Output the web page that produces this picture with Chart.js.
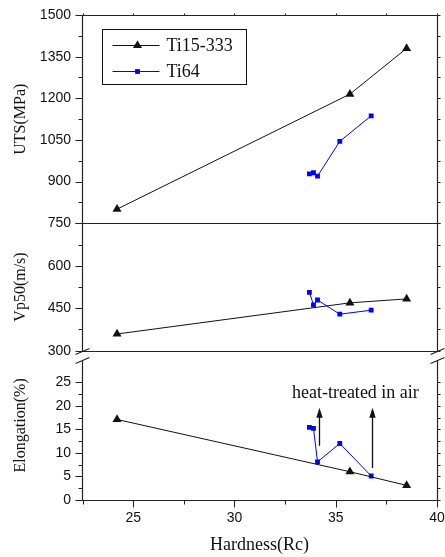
<!DOCTYPE html>
<html>
<head>
<meta charset="utf-8">
<script src="https://cdn.jsdelivr.net/npm/chart.js@4/dist/chart.umd.min.js"></script>
<style>
  html, body { margin: 0; padding: 0; background: #fff; }
</style>
</head>
<body>
<canvas id="myChart" width="445" height="557"></canvas>
<script>
//Data
const seriesNames = ['Ti15-333', 'Ti64']

const ti15Hardness = [24.2, 35.7, 38.5]
const ti15Uts = [801, 1215, 1380]
const ti15Vp50 = [359, 469, 483]
const ti15Elong = [17.1, 6.0, 3.1]

const ti64Hardness = [33.7, 33.9, 34.1, 35.2, 36.75]
const ti64Uts = [928, 932, 920, 1045, 1137]
const ti64Vp50 = [506, 462, 479, 429, 443]
const ti64Elong = [15.4, 15.2, 8.1, 12.0, 5.1]

const hardnessTicks = [25, 30, 35, 40]
const utsTicks = [900, 1050, 1200, 1350, 1500]
const vp50Ticks = [300, 450, 600, 750]
const elongTicks = [0, 5, 10, 15, 20, 25]

//Annotation (hardness, elongation from, elongation to)
const arrowX = [34.18, 36.77]
const arrowFrom = [11.5, 6.8]
const arrowTo = [19.6, 19.6]
const noteText = 'heat-treated in air'
const noteX = 35.97
const noteY = 22.7

const SERIF = '"Liberation Serif", "Times New Roman", serif'
const SANS = '"Liberation Sans", Arial, sans-serif'
const INK = '#111'
const BLUE = '#0000ff'

function pts(xs, ys){
  return xs.map((x, i) => ({x: x, y: ys[i]}))
}

function ti15(data, axis){
  return {
    label: seriesNames[0], data: data, yAxisID: axis,
    borderColor: INK, backgroundColor: INK, borderWidth: 1,
    pointStyle: 'triangle', pointRadius: 5.2, pointBorderWidth: 0,
    pointHoverRadius: 5.2
  }
}
function ti64(data, axis){
  return {
    label: seriesNames[1], data: data, yAxisID: axis,
    borderColor: BLUE, backgroundColor: BLUE, borderWidth: 1,
    pointStyle: 'rect', pointRadius: 3.4, pointBorderWidth: 0,
    pointHoverRadius: 3.4
  }
}

function fixedTicks(list){
  return s => { s.ticks = list.map(v => ({value: v})) }
}

function yScale(min, max, list, weight, title){
  return {
    type: 'linear', position: 'left', stack: 'panels', stackWeight: weight,
    min: min, max: max,
    afterBuildTicks: fixedTicks(list),
    afterFit: s => { s.width = 82; s.paddingTop = 0; s.paddingBottom = 0 },
    grid: {display: false, drawTicks: false},
    border: {display: false},
    ticks: {padding: 11, autoSkip: false, color: INK, font: {family: SANS, size: 14}, callback: v => String(v)},
    title: {display: true, text: title, color: INK, font: {family: SERIF, size: 16}, padding: {top: 11, bottom: 0}}
  }
}

//Frame, ticks, breaks
const frame = {
  id: 'frame',
  afterDatasetsDraw(chart){
    const ctx = chart.ctx
    const x = chart.scales.x, yU = chart.scales.yU, yV = chart.scales.yV, yE = chart.scales.yE
    const L = Math.round(x.left) + 0.5, R = Math.round(x.right) + 0.5
    const top = Math.round(yU.getPixelForValue(1500)) + 0.5
    const mid = Math.round(yU.getPixelForValue(750)) + 0.5
    const brk = Math.round(yV.getPixelForValue(300)) + 0.5
    const bTop = brk + 9
    const bot = Math.round(yE.getPixelForValue(0)) + 0.5

    ctx.save()
    ctx.strokeStyle = '#222'
    ctx.lineWidth = 1.2
    const line = (x1, y1, x2, y2) => { ctx.beginPath(); ctx.moveTo(x1, y1); ctx.lineTo(x2, y2); ctx.stroke() }

    //boxes
    line(L, top, R, top)
    line(L, mid, R, mid)
    line(L, brk, R, brk)
    line(L, bot, R, bot)
    line(L, top, L, brk)
    line(R, top, R, brk)
    line(L, bTop, L, bot)
    line(R, bTop, R, bot)

    //break marks
    ctx.lineWidth = 1.1
    ;[L, R].forEach(px => {
      line(px - 7, brk + 3, px + 7, brk - 3)
      line(px - 7, bTop + 3, px + 7, bTop - 3)
    })

    //y ticks
    ctx.lineWidth = 1
    const yTicks = (scale, major, lo, hi) => {
      const step = major[1] - major[0]
      for (let v = major[0] - step / 2; v <= major[major.length - 1] + 0.001; v += step / 2){
        if (v < lo - 0.001 || v > hi + 0.001) continue
        const py = Math.round(scale.getPixelForValue(v)) + 0.5
        const isMajor = major.some(m => Math.abs(m - v) < 0.001)
        line(L - (isMajor ? 7 : 4), py, L, py)
        line(R, py, R + 3, py)
      }
    }
    yTicks(yU, [750].concat(utsTicks), 750, 1500)
    yTicks(yV, vp50Ticks, 300, 750)
    yTicks(yE, elongTicks, 0, 28)

    //x ticks
    for (let v = 22.5; v <= 40.001; v += 2.5){
      const px = Math.round(x.getPixelForValue(v)) + 0.5
      const isMajor = hardnessTicks.some(m => Math.abs(m - v) < 0.001)
      line(px, bot, px, bot + (isMajor ? 7 : 4))
      line(px, top, px, top - 2)
    }
    ctx.restore()
  }
}

//Arrows and note
const notes = {
  id: 'notes',
  afterDatasetsDraw(chart){
    const ctx = chart.ctx
    const x = chart.scales.x, yE = chart.scales.yE
    ctx.save()
    ctx.strokeStyle = INK
    ctx.fillStyle = INK
    ctx.lineWidth = 1.3
    arrowX.forEach((hx, i) => {
      const px = Math.round(x.getPixelForValue(hx)) + 0.5
      const y1 = yE.getPixelForValue(arrowFrom[i])
      const y2 = yE.getPixelForValue(arrowTo[i])
      ctx.beginPath(); ctx.moveTo(px, y1); ctx.lineTo(px, y2 + 8); ctx.stroke()
      ctx.beginPath()
      ctx.moveTo(px, y2)
      ctx.lineTo(px - 3.2, y2 + 10)
      ctx.lineTo(px + 3.2, y2 + 10)
      ctx.closePath()
      ctx.fill()
    })
    ctx.font = '18px ' + SERIF
    ctx.textAlign = 'center'
    ctx.textBaseline = 'middle'
    ctx.fillText(noteText, x.getPixelForValue(noteX), yE.getPixelForValue(noteY))
    ctx.restore()
  }
}

//Legend in the top panel
const legendBox = {
  id: 'legendBox',
  afterDraw(chart){
    const ctx = chart.ctx
    const a = chart.chartArea
    const bx = Math.round(a.left) + 20.5, by = Math.round(a.top) + 14.5
    const items = [chart.data.datasets[0], chart.data.datasets[3]]
    ctx.save()
    ctx.strokeStyle = INK
    ctx.lineWidth = 1
    ctx.strokeRect(bx, by, 144, 55)
    items.forEach((ds, i) => {
      const cy = by + 16 + i * 26
      ctx.strokeStyle = ds.borderColor
      ctx.fillStyle = ds.backgroundColor
      ctx.lineWidth = 1
      ctx.beginPath(); ctx.moveTo(bx + 10, cy); ctx.lineTo(bx + 57, cy); ctx.stroke()
      const cx = bx + 35
      ctx.beginPath()
      if (ds.pointStyle === 'triangle'){
        const r = ds.pointRadius
        ctx.moveTo(cx, cy - r)
        ctx.lineTo(cx + r * 0.866, cy + r / 2)
        ctx.lineTo(cx - r * 0.866, cy + r / 2)
        ctx.closePath()
      } else {
        const h = ds.pointRadius * Math.SQRT1_2
        ctx.rect(cx - h, cy - h, 2 * h, 2 * h)
      }
      ctx.fill()
      ctx.fillStyle = INK
      ctx.font = '18px ' + SERIF
      ctx.textAlign = 'left'
      ctx.textBaseline = 'middle'
      ctx.fillText(ds.label, bx + 64, cy + 1)
    })
    ctx.restore()
  }
}

var ctx = document.getElementById('myChart')
var myChart = new Chart(ctx, {
  type: 'line',
  data: {
    datasets: [
      ti15(pts(ti15Hardness, ti15Uts), 'yU'),
      ti15(pts(ti15Hardness, ti15Vp50), 'yV'),
      ti15(pts(ti15Hardness, ti15Elong), 'yE'),
      ti64(pts(ti64Hardness, ti64Uts), 'yU'),
      ti64(pts(ti64Hardness, ti64Vp50), 'yV'),
      ti64(pts(ti64Hardness, ti64Elong), 'yE'),
    ],
  },
  options: {
    responsive: false,
    animation: false,
    devicePixelRatio: 1,
    layout: {padding: {top: 15, right: 8, left: 0, bottom: 0}},
    plugins: {legend: {display: false}, tooltip: {enabled: false}},
    scales: {
      x: {
        type: 'linear', position: 'bottom', min: 22.47, max: 40,
        afterBuildTicks: fixedTicks(hardnessTicks),
        afterFit: s => { s.height = 57; s.paddingLeft = 0; s.paddingRight = 0 },
        grid: {display: false, drawTicks: false},
        border: {display: false},
        ticks: {padding: 10, autoSkip: false, maxRotation: 0, color: INK, font: {family: SANS, size: 14}},
        title: {display: true, text: 'Hardness(Rc)', color: INK, font: {family: SERIF, size: 18}, padding: {top: 0, bottom: 1}}
      },
      yE: yScale(0, 31.7, elongTicks, 149.3, 'Elongation(%)'),
      yV: yScale(300, 750, vp50Ticks, 127.4, 'Vp50(m/s)'),
      yU: yScale(750, 1500, utsTicks, 208.3, 'UTS(MPa)'),
    },
  },
  plugins: [frame, notes, legendBox]
});
</script>
</body>
</html>
